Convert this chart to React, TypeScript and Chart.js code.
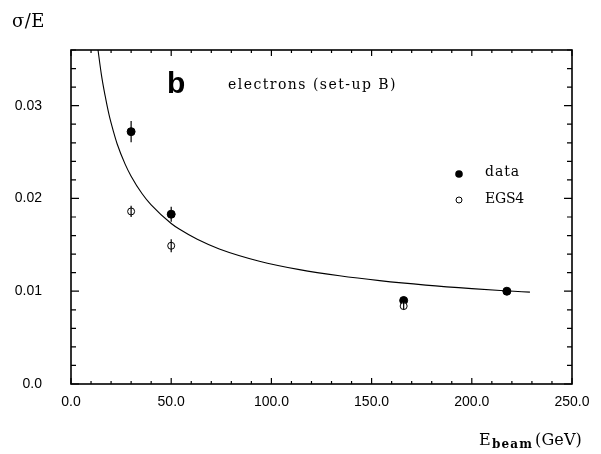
import React, { useEffect, useRef } from "react";
import { Chart, registerables } from "chart.js";

Chart.register(...registerables);

// ---- axis ticks ----
const xTickValues = [0, 50, 100, 150, 200, 250];
const xTickLabels = ["0.0", "50.0", "100.0", "150.0", "200.0", "250.0"];
const yTickValues = [0, 0.01, 0.02, 0.03];
const yTickLabels = ["0.0", "0.01", "0.02", "0.03"];
const xMin = 0;
const xMax = 250;
const yMin = 0;
const yMax = 0.036;
const xMinorStep = 10;
const yMinorStep = 0.002;

// ---- measured data (filled circles) ----
const dataE = [30, 50, 166, 217.5];
const dataSigma = [0.0272, 0.0183, 0.009, 0.01];
const dataErr = [0.00115, 0.0008, 0.0004, 0.0003];

// ---- EGS4 simulation (open circles) ----
const egsE = [30, 50, 166];
const egsSigma = [0.0186, 0.0149, 0.0084];
const egsErr = [0.0006, 0.0007, 0.0004];

// ---- fitted curve ----
const fitE = [13.3, 15.2, 17, 19, 21.2, 23, 27, 30, 35.5, 40, 50, 54, 63, 74, 94, 114, 134, 154, 177, 200, 217, 229];
const fitSigma = [0.0363, 0.0333, 0.0311, 0.029, 0.0272, 0.0259, 0.0237, 0.0224, 0.0205, 0.0193, 0.0173, 0.0167, 0.0156, 0.01456, 0.01324, 0.01233, 0.01166, 0.01114, 0.01066, 0.01028, 0.01005, 0.0099];

const SERIF = "'DejaVu Serif', serif";
const SANS = "'Liberation Sans', Arial, sans-serif";

function fitText(ctx: CanvasRenderingContext2D, text: string, x: number, y: number, width: number) {
  (ctx as any).letterSpacing = "0px";
  const w = ctx.measureText(text).width;
  const n = text.length;
  const ls = n > 1 ? (width - w) / n : 0;
  (ctx as any).letterSpacing = ls + "px";
  ctx.fillText(text, x, y);
  (ctx as any).letterSpacing = "0px";
}

const decorPlugin = {
  id: "decor",
  beforeDraw(chart: any) {
    const ctx = chart.ctx;
    ctx.save();
    ctx.fillStyle = "#fff";
    ctx.fillRect(0, 0, chart.width, chart.height);
    ctx.restore();
  },
  afterDatasetsDraw(chart: any) {
    const ctx: CanvasRenderingContext2D = chart.ctx;
    const xs = chart.scales.x;
    const ys = chart.scales.y;
    const ca = chart.chartArea;
    ctx.save();
    ctx.strokeStyle = "#000";
    ctx.fillStyle = "#000";

    // error bars
    ctx.lineWidth = 1.2;
    const bars = (E: number[], S: number[], Er: number[]) => {
      E.forEach((e, i) => {
        const px = xs.getPixelForValue(e);
        ctx.beginPath();
        ctx.moveTo(px, ys.getPixelForValue(S[i] - Er[i]));
        ctx.lineTo(px, ys.getPixelForValue(S[i] + Er[i]));
        ctx.stroke();
      });
    };
    bars(dataE, dataSigma, dataErr);
    bars(egsE, egsSigma, egsErr);

    // frame
    ctx.lineWidth = 1.6;
    ctx.strokeRect(ca.left, ca.top, ca.right - ca.left, ca.bottom - ca.top);

    // inward ticks
    ctx.lineWidth = 1.2;
    for (let v = xMin; v <= xMax + 1e-9; v += xMinorStep) {
      const px = xs.getPixelForValue(v);
      const major = Math.abs(v % 50) < 1e-6;
      const len = major ? 6 : 3;
      ctx.beginPath();
      ctx.moveTo(px, ca.bottom);
      ctx.lineTo(px, ca.bottom - len);
      ctx.moveTo(px, ca.top);
      ctx.lineTo(px, ca.top + len);
      ctx.stroke();
    }
    for (let k = 0; k * yMinorStep <= yMax + 1e-9; k++) {
      const v = k * yMinorStep;
      const py = ys.getPixelForValue(v);
      const major = k % 5 === 0;
      const len = major ? 8 : 5;
      ctx.beginPath();
      ctx.moveTo(ca.left, py);
      ctx.lineTo(ca.left + len, py);
      ctx.moveTo(ca.right, py);
      ctx.lineTo(ca.right - len, py);
      ctx.stroke();
    }

    // panel letter and caption
    ctx.textBaseline = "alphabetic";
    ctx.textAlign = "left";
    ctx.font = `bold 30px ${SANS}`;
    ctx.fillText("b", 167, 93);
    ctx.font = `14px ${SERIF}`;
    fitText(ctx, "electrons (set-up B)", 228, 89, 169);

    // legend
    ctx.beginPath();
    ctx.arc(459, 174, 3.8, 0, Math.PI * 2);
    ctx.fill();
    ctx.beginPath();
    ctx.lineWidth = 1;
    ctx.arc(459, 200, 3, 0, Math.PI * 2);
    ctx.stroke();
    ctx.textBaseline = "middle";
    ctx.font = `14px ${SERIF}`;
    fitText(ctx, "data", 485, 172, 35);
    fitText(ctx, "EGS4", 485, 199, 39);

    // axis titles
    ctx.textBaseline = "alphabetic";
    ctx.font = `18px ${SERIF}`;
    fitText(ctx, "\u03c3/E", 12, 27, 33);
    ctx.font = `16px ${SERIF}`;
    ctx.fillText("E", 479, 445);
    ctx.font = `bold 12px ${SERIF}`;
    fitText(ctx, "beam", 492, 448, 41);
    ctx.font = `16px ${SERIF}`;
    fitText(ctx, "(GeV)", 535, 445, 47);
    ctx.restore();
  },
};

export default function App() {
  const ref = useRef<HTMLCanvasElement | null>(null);
  useEffect(() => {
    const canvas = ref.current!;
    const chart = new Chart(canvas, {
      type: "scatter",
      data: {
        datasets: [
          {
            label: "fit",
            type: "line",
            data: fitE.map((x, i) => ({ x, y: fitSigma[i] })),
            borderColor: "#000",
            borderWidth: 1.1,
            pointRadius: 0,
            cubicInterpolationMode: "monotone",
            fill: false,
            showLine: true,
          } as any,
          {
            label: "EGS4",
            data: egsE.map((x, i) => ({ x, y: egsSigma[i] })),
            pointRadius: 3.5,
            pointBackgroundColor: "#fff",
            pointBorderColor: "#000",
            pointBorderWidth: 1,
          },
          {
            label: "data",
            data: dataE.map((x, i) => ({ x, y: dataSigma[i] })),
            pointRadius: 4,
            pointBackgroundColor: "#000",
            pointBorderColor: "#000",
            pointBorderWidth: 1,
          },
        ],
      },
      options: {
        animation: false,
        responsive: false,
        maintainAspectRatio: false,
        events: [],
        layout: { padding: { top: 50, right: 29, left: 0, bottom: 0 } },
        plugins: { legend: { display: false }, tooltip: { enabled: false } },
        scales: {
          x: {
            type: "linear",
            min: xMin,
            max: xMax,
            afterBuildTicks: (s: any) => {
              s.ticks = xTickValues.map((v) => ({ value: v }));
            },
            ticks: {
              callback: (v: any) => xTickLabels[xTickValues.indexOf(Number(v))],
              font: { family: SANS, size: 14 },
              color: "#000",
              padding: 10,
              maxRotation: 0,
              autoSkip: false,
            },
            grid: { display: false, drawTicks: false, tickLength: 0 },
            border: { display: false },
            afterFit: (s: any) => {
              s.height = 70;
            },
          },
          y: {
            type: "linear",
            min: yMin,
            max: yMax,
            afterBuildTicks: (s: any) => {
              s.ticks = yTickValues.map((v) => ({ value: v }));
            },
            ticks: {
              callback: (v: any) => yTickLabels[yTickValues.findIndex((t) => Math.abs(t - Number(v)) < 1e-9)],
              font: { family: SANS, size: 14 },
              color: "#000",
              padding: 29,
              autoSkip: false,
            },
            grid: { display: false, drawTicks: false, tickLength: 0 },
            border: { display: false },
            afterFit: (s: any) => {
              s.width = 71;
            },
          },
        },
      },
      plugins: [decorPlugin],
    });
    return () => chart.destroy();
  }, []);
  return (
    <div style={{ position: "absolute", left: 0, top: 0, width: 601, height: 454, background: "#fff" }}>
      <canvas ref={ref} width={601} height={454} style={{ display: "block" }} />
    </div>
  );
}
